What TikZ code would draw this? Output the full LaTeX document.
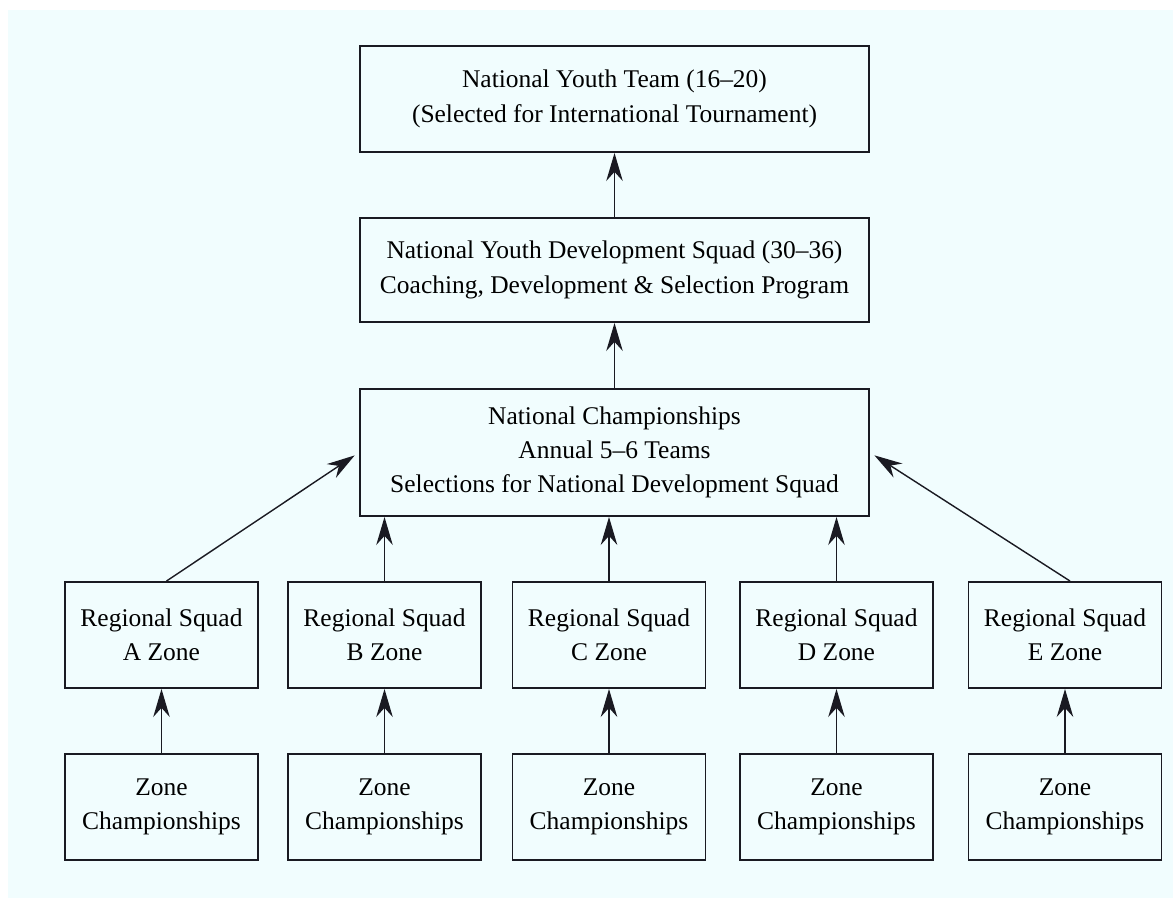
\documentclass[tikz,border=0pt]{standalone}
\usepackage{fontspec}
\setmainfont{Liberation Serif}
\usepackage{tikz}
\usetikzlibrary{arrows.meta,positioning,calc}
\definecolor{cPaper}{HTML}{F1FDFE}
\definecolor{cInk}{HTML}{1A1A22}

\begin{document}
\begin{tikzpicture}[x=0.02cm, y=-0.02cm, font=\fontsize{14.5}{19.5}\selectfont,
    >={Stealth[length=5.6mm,width=3.3mm]},
    box/.style={draw=cInk, line width=1.1pt, align=center, text=black, inner sep=0pt},
    wide/.style={box, minimum width=509*0.02cm},
    small/.style={box, minimum width=193*0.02cm, minimum height=106*0.02cm},
    link/.style={->, line width=0.8pt, draw=cInk}]
    \useasboundingbox (0,0) rectangle (1173,898);
    \fill[cPaper] (8,10) rectangle (1173,898);
    % national levels
    \node[wide, minimum height=106*0.02cm] (team)  at (614.5,99)  {National Youth Team (16--20)\\(Selected for International Tournament)};
    \node[wide, minimum height=104*0.02cm] (squad) at (614.5,270) {National Youth Development Squad (30--36)\\Coaching, Development \& Selection Program};
    \node[wide, minimum height=127*0.02cm] (champ) at (614.5,452.5) {National Championships\\Annual 5--6 Teams\\Selections for National Development Squad};
    \draw[link] (squad) -- (team);
    \draw[link] (champ) -- (squad);
    % regions and zones
    \foreach \n/\x in {A/161.5, B/384.5, C/609, D/836.5, E/1065} {
      \node[small] (reg\n)  at (\x,635) {Regional Squad\\\n\ Zone};
      \node[small] (zone\n) at (\x,807) {Zone\\Championships};
      \draw[link] (zone\n) -- (reg\n);
    }
    \foreach \n in {B,C,D} \draw[link] (reg\n.north) -- (reg\n.north |- champ.south);
    \draw[link, shorten >=3pt] ($(regA.north)+(5,0)$) -- (champ.west);
    \draw[link, shorten >=3pt] ($(regE.north)+(5,0)$) -- (champ.east);
  \end{tikzpicture}
\end{document}
